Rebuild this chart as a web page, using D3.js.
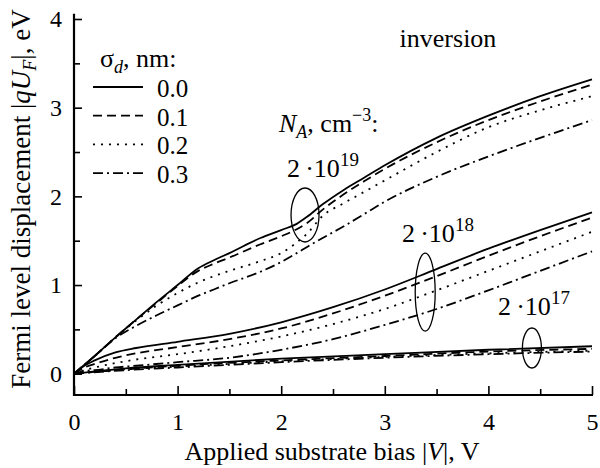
<!DOCTYPE html>
<html>
<head>
<meta charset="utf-8">
<script src="https://cdn.jsdelivr.net/npm/d3@7"></script>
<style>
    body { margin: 0; background: #fff; }
    svg text { font-family: "Liberation Serif", "DejaVu Serif", serif; fill: #000; }
</style>
</head>
<body>
<div id="chart"></div>
<script>
// bias grids (V) and Fermi level displacement (eV) for each doping level
const bias19 = [0, 0.2, 0.4, 0.6, 0.8, 1.0, 1.2, 1.35, 1.5, 1.8, 2.0, 2.15, 2.25, 2.4, 2.6, 2.8, 3.0, 3.5, 4.0, 4.5, 5.0];
const na19_s00 = [0, 0.20, 0.41, 0.61, 0.81, 1.00, 1.19, 1.28, 1.36, 1.53, 1.62, 1.69, 1.77, 1.91, 2.07, 2.21, 2.35, 2.66, 2.91, 3.13, 3.32];
const na19_s01 = [0, 0.20, 0.41, 0.61, 0.80, 0.99, 1.16, 1.24, 1.31, 1.46, 1.55, 1.63, 1.70, 1.85, 2.02, 2.17, 2.31, 2.61, 2.86, 3.07, 3.26];
const na19_s02 = [0, 0.20, 0.41, 0.60, 0.77, 0.91, 1.03, 1.10, 1.16, 1.27, 1.36, 1.48, 1.58, 1.78, 1.92, 2.05, 2.18, 2.50, 2.78, 2.97, 3.13];
const na19_s03 = [0, 0.20, 0.40, 0.54, 0.66, 0.77, 0.88, 0.95, 1.02, 1.15, 1.26, 1.36, 1.43, 1.53, 1.66, 1.80, 1.94, 2.22, 2.45, 2.66, 2.86];

const bias18 = [0, 0.1, 0.2, 0.4, 0.6, 1.0, 1.5, 2.0, 2.5, 3.0, 3.5, 4.0, 4.5, 5.0];
const na18_s00 = [0, 0.09, 0.15, 0.24, 0.29, 0.36, 0.45, 0.58, 0.75, 0.95, 1.18, 1.41, 1.62, 1.82];
const na18_s01 = [0, 0.07, 0.11, 0.18, 0.23, 0.30, 0.39, 0.51, 0.68, 0.88, 1.10, 1.33, 1.55, 1.76];
const na18_s02 = [0, 0.04, 0.07, 0.12, 0.16, 0.22, 0.31, 0.42, 0.56, 0.73, 0.94, 1.16, 1.38, 1.60];
const na18_s03 = [0, 0.03, 0.04, 0.07, 0.09, 0.13, 0.18, 0.27, 0.39, 0.55, 0.73, 0.94, 1.16, 1.38];

const bias17 = [0, 0.5, 1, 2, 3, 4, 5];
const na17_s00 = [0, 0.06, 0.10, 0.17, 0.22, 0.27, 0.31];
const na17_s01 = [0, 0.05, 0.09, 0.15, 0.20, 0.25, 0.28];
const na17_s02 = [0, 0.05, 0.08, 0.14, 0.19, 0.23, 0.26];
const na17_s03 = [0, 0.04, 0.07, 0.13, 0.18, 0.22, 0.25];

const sigmaLabels = ['0.0', '0.1', '0.2', '0.3'];
const xTicks = [0, 1, 2, 3, 4, 5];
const yTicks = [0, 1, 2, 3, 4];
const xMinor = [0.5, 1.5, 2.5, 3.5, 4.5];
const yMinor = [0.5, 1.5, 2.5, 3.5];

// ellipse marks around each family: [bias, eV, label exponent]
const families = [
    { bias: bias19, series: [na19_s00, na19_s01, na19_s02, na19_s03], ring: [2.23, 1.79], exp: '19' },
    { bias: bias18, series: [na18_s00, na18_s01, na18_s02, na18_s03], ring: [3.39, 0.92], exp: '18' },
    { bias: bias17, series: [na17_s00, na17_s01, na17_s02, na17_s03], ring: [4.42, 0.29], exp: '17' }
];

const width = 600, height = 468;
const margin = { top: 19, right: 8, bottom: 73, left: 74 };
const dashes = [null, '9,5', '2,6', '10,4,2,4'];

const svg = d3.select('#chart').append('svg')
    .attr('width', width)
    .attr('height', height);

const x = d3.scaleLinear().domain([0, 5]).range([margin.left, width - margin.right]);
const y = d3.scaleLinear().domain([-0.24, 4]).range([height - margin.bottom, margin.top]);

// axes: ticks point inward
const xAxis = svg.append('g')
    .attr('transform', `translate(0,${y(-0.24)})`)
    .call(d3.axisBottom(x).tickValues(xTicks).tickSize(-9).tickPadding(18).tickFormat(d3.format('d')));
xAxis.selectAll('.tick text').attr('dy', '0.71em').style('font-size', '24px');

svg.append('g')
    .attr('transform', `translate(0,${y(-0.24)})`)
    .call(d3.axisBottom(x).tickValues(xMinor).tickSize(-6).tickFormat(''));

const yAxis = svg.append('g')
    .attr('transform', `translate(${x(0)},0)`)
    .call(d3.axisLeft(y).tickValues(yTicks).tickSize(-8).tickPadding(12).tickFormat(d3.format('d')));
yAxis.selectAll('.tick text').style('font-size', '24px');

svg.append('g')
    .attr('transform', `translate(${x(0)},0)`)
    .call(d3.axisLeft(y).tickValues(yMinor).tickSize(-6).tickFormat(''));

svg.selectAll('.domain').remove();
svg.selectAll('.tick line').attr('stroke', '#000').attr('stroke-width', 1.6);

svg.append('line')
    .attr('x1', x(0)).attr('x2', x(5) + 1)
    .attr('y1', y(-0.24)).attr('y2', y(-0.24))
    .attr('stroke', '#000').attr('stroke-width', 2.2);
svg.append('line')
    .attr('x1', x(0)).attr('x2', x(0))
    .attr('y1', y(-0.24) + 1).attr('y2', y(4.06))
    .attr('stroke', '#000').attr('stroke-width', 2.2);

// curves
const line = d3.line()
    .x(d => x(d[0]))
    .y(d => y(d[1]))
    .curve(d3.curveMonotoneX);

families.forEach(f => {
    f.series.forEach((vals, i) => {
        svg.append('path')
            .datum(f.bias.map((b, j) => [b, vals[j]]))
            .attr('d', line)
            .attr('fill', 'none')
            .attr('stroke', '#000')
            .attr('stroke-width', 1.8)
            .attr('stroke-dasharray', dashes[i]);
    });
});

// ellipses around the families
const ringSize = [[14, 27], [10, 39], [9.5, 20]];
families.forEach((f, i) => {
    svg.append('ellipse')
        .attr('cx', x(f.ring[0]))
        .attr('cy', y(f.ring[1]))
        .attr('rx', ringSize[i][0])
        .attr('ry', ringSize[i][1])
        .attr('fill', 'none')
        .attr('stroke', '#000')
        .attr('stroke-width', 1.3);
});

// doping labels
const labelPos = [[287, 177], [402, 242], [498, 315]];
families.forEach((f, i) => {
    const t = svg.append('text')
        .attr('x', labelPos[i][0])
        .attr('y', labelPos[i][1])
        .style('font-size', '26px');
    t.append('tspan').text('2\u2009\u00b710');
    t.append('tspan').attr('dy', -11).style('font-size', '19px').text(f.exp);
});

const na = svg.append('text').attr('x', 279).attr('y', 132).style('font-size', '26px');
na.append('tspan').style('font-style', 'italic').text('N');
na.append('tspan').attr('dy', 6).style('font-size', '18px').style('font-style', 'italic').text('A');
na.append('tspan').attr('dy', -6).text(', cm');
na.append('tspan').attr('dy', -11).style('font-size', '18px').text('\u22123');
na.append('tspan').attr('dy', 11).text(':');

svg.append('text')
    .attr('x', 448).attr('y', 47)
    .attr('text-anchor', 'middle')
    .style('font-size', '26px')
    .text('inversion');

// legend
const sg = svg.append('text').attr('x', 100).attr('y', 67).style('font-size', '26px');
sg.append('tspan').text('\u03c3');
sg.append('tspan').attr('dy', 6).style('font-size', '18px').style('font-style', 'italic').text('d');
sg.append('tspan').attr('dy', -6).text(', nm:');

sigmaLabels.forEach((lab, i) => {
    const ly = 87 + i * 28.7;
    svg.append('line')
        .attr('x1', 93).attr('x2', 143)
        .attr('y1', ly).attr('y2', ly)
        .attr('stroke', '#000')
        .attr('stroke-width', 1.8)
        .attr('stroke-dasharray', dashes[i]);
    svg.append('text')
        .attr('x', 157).attr('y', ly + 10)
        .style('font-size', '25px')
        .text(lab);
});

// axis titles
const xt = svg.append('text')
    .attr('x', 332).attr('y', 460)
    .attr('text-anchor', 'middle')
    .style('font-size', '26px');
xt.append('tspan').text('Applied substrate bias |');
xt.append('tspan').style('font-style', 'italic').text('V');
xt.append('tspan').text('|, V');

const yt = svg.append('text')
    .attr('transform', 'translate(30,199) rotate(-90)')
    .attr('text-anchor', 'middle')
    .style('font-size', '27px');
yt.append('tspan').text('Fermi level displacement |');
yt.append('tspan').style('font-style', 'italic').text('qU');
yt.append('tspan').attr('dy', 6).style('font-size', '18px').style('font-style', 'italic').text('F');
yt.append('tspan').attr('dy', -6).text('|, eV');
</script>
</body>
</html>
